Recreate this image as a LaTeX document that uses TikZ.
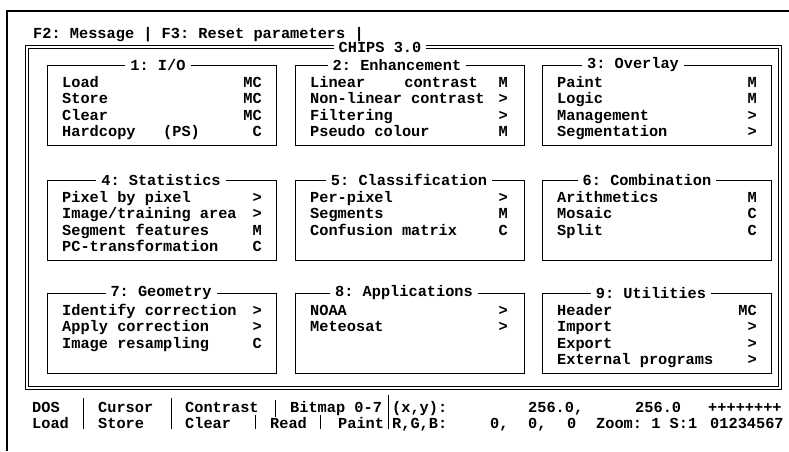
\documentclass[tikz,border=0pt]{standalone}
\usepackage{fontspec}
\setmonofont{Liberation Mono}
\usepackage{tikz}

\newcommand\chipsfont{\fontsize{15.3}{16}\selectfont\ttfamily\bfseries}

\tikzset{
  panel/.style={draw, line width=1.1pt, anchor=north west, minimum width=229pt, minimum height=80pt, inner sep=0pt},
  ptitle/.style={fill=white, inner xsep=5pt, inner ysep=1pt, font=\chipsfont},
  item/.style={anchor=base west, inner sep=0pt, font=\chipsfont},
  flag/.style={anchor=base east, inner sep=0pt, font=\chipsfont},
  mainframe/.style={double, line width=0.9pt, double distance=1.6pt},
}

\begin{document}
\begin{tikzpicture}[x=1pt,y=-1pt]
\useasboundingbox (0,0) rectangle (789,451);
\draw[line width=1.2pt] (789,11) -- (7,11) -- (7,451);
\node[item] (keys) at (33,38) {F2: Message | F3: Reset parameters |};

% main window
\draw[mainframe] (27,47) rectangle (780,388);
\node[ptitle] (chips) at (380,47) {CHIPS 3.0};

% row 1
\node[panel] (io) at (47,65) {};
\node[ptitle] (io-t) at (158,65) {1: I/O};
\foreach \txt/\fl [count=\i from 0] in {Load/MC, Store/MC, Clear/MC, Hardcopy/C}
  {\node[item] (io-\i) at (62,{87+16.5*\i}) {\txt};
   \node[flag] (io-\i-f) at (262,{87+16.5*\i}) {\fl};}
\node[item] (io-ps) at (163,136.5) {(PS)};

\node[panel] (enh) at (295,65) {};
\node[ptitle] (enh-t) at (397,65) {2: Enhancement};
\foreach \txt/\fl [count=\i from 0] in {Linear/M, Non-linear contrast/>, Filtering/>, Pseudo colour/M}
  {\node[item] (enh-\i) at (310,{87+16.5*\i}) {\txt};
   \node[flag] (enh-\i-f) at (508,{87+16.5*\i}) {\fl};}
\node[flag] (enh-lin) at (478,87) {contrast};

\node[panel] (ovl) at (542,65) {};
\node[ptitle] (ovl-t) at (633,65) {3: Overlay};
\foreach \txt/\fl [count=\i from 0] in {Paint/M, Logic/M, Management/>, Segmentation/>}
  {\node[item] (ovl-\i) at (557,{87+16.5*\i}) {\txt};
   \node[flag] (ovl-\i-f) at (757,{87+16.5*\i}) {\fl};}

% row 2
\node[panel] (stat) at (47,180) {};
\node[ptitle] (stat-t) at (161,180) {4: Statistics};
\foreach \txt/\fl [count=\i from 0] in {Pixel by pixel/>, {Image/training area}/>, Segment features/M, PC-transformation/C}
  {\node[item] (stat-\i) at (62,{202+16.5*\i}) {\txt};
   \node[flag] (stat-\i-f) at (262,{202+16.5*\i}) {\fl};}

\node[panel] (cls) at (295,180) {};
\node[ptitle] (cls-t) at (409,180) {5: Classification};
\foreach \txt/\fl [count=\i from 0] in {Per-pixel/>, Segments/M, Confusion matrix/C}
  {\node[item] (cls-\i) at (310,{202+16.5*\i}) {\txt};
   \node[flag] (cls-\i-f) at (508,{202+16.5*\i}) {\fl};}

\node[panel] (comb) at (542,180) {};
\node[ptitle] (comb-t) at (647,180) {6: Combination};
\foreach \txt/\fl [count=\i from 0] in {Arithmetics/M, Mosaic/C, Split/C}
  {\node[item] (comb-\i) at (557,{202+16.5*\i}) {\txt};
   \node[flag] (comb-\i-f) at (757,{202+16.5*\i}) {\fl};}

% row 3
\node[panel] (geo) at (47,293) {};
\node[ptitle] (geo-t) at (161,293) {7: Geometry};
\foreach \txt/\fl [count=\i from 0] in {Identify correction/>, Apply correction/>, Image resampling/C}
  {\node[item] (geo-\i) at (62,{315+16.5*\i}) {\txt};
   \node[flag] (geo-\i-f) at (262,{315+16.5*\i}) {\fl};}

\node[panel] (app) at (295,293) {};
\node[ptitle] (app-t) at (404,293) {8: Applications};
\foreach \txt/\fl [count=\i from 0] in {NOAA/>, Meteosat/>}
  {\node[item] (app-\i) at (310,{315+16.5*\i}) {\txt};
   \node[flag] (app-\i-f) at (508,{315+16.5*\i}) {\fl};}

\node[panel] (util) at (542,293) {};
\node[ptitle] (util-t) at (651,293) {9: Utilities};
\foreach \txt/\fl [count=\i from 0] in {Header/MC, Import/>, Export/>, External programs/>}
  {\node[item] (util-\i) at (557,{315+16.5*\i}) {\txt};
   \node[flag] (util-\i-f) at (757,{315+16.5*\i}) {\fl};}

% status bar
\node[item] (dos) at (32,412) {DOS};
\node[item] (cursor) at (98,412) {Cursor};
\node[item] (contrast) at (185,412) {Contrast};
\node[item] (bitmap) at (290,412) {Bitmap 0-7};
\node[item] (xy) at (392,412) {(x,y):};
\node[item] (xval) at (528,412) {256.0,};
\node[item] (yval) at (635,412) {256.0};
\node[item] (plus) at (708,412) {++++++++};
\node[item] (load) at (32,428) {Load};
\node[item] (store) at (98,428) {Store};
\node[item] (clear) at (185,428) {Clear};
\node[item] (read) at (270,428) {Read};
\node[item] (paint) at (338,428) {Paint};
\node[item] (rgb) at (392,428) {R,G,B:};
\node[item] (rval) at (490,428) {0,};
\node[item] (gval) at (528,428) {0,};
\node[item] (bval) at (567,428) {0};
\node[item] (zoom) at (596,428) {Zoom: 1 S:1};
\node[item] (digits) at (710,428) {01234567};
\draw[line width=1pt] (83,398) -- (83,429) (171,398) -- (171,429) (388,395) -- (388,429)
  (275,400) -- (275,417) (255,415) -- (255,429) (320,415) -- (320,429);
\end{tikzpicture}
\end{document}
